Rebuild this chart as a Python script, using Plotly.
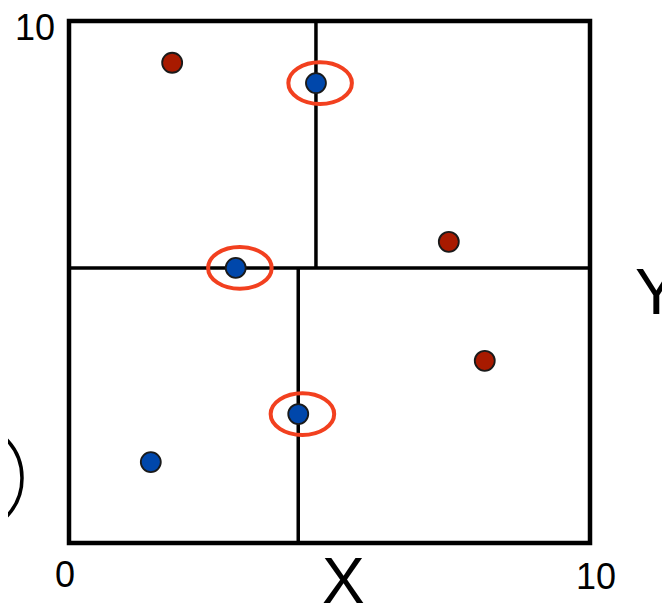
import plotly.graph_objects as go

# ---- data ----
red_x = [1.98, 7.29, 7.98]
red_y = [9.20, 5.77, 3.49]
blue_x = [4.74, 3.20, 4.40, 1.57]
blue_y = [8.81, 5.27, 2.47, 1.55]
highlighted = [0, 1, 2]          # indices of blue points circled in red
split_y = 5.27                   # first split (horizontal line)
split_x_top = 4.74               # split in upper half
split_x_bottom = 4.40            # split in lower half
axis_min, axis_max = 0, 10
tick_labels = ["0", "10", "10"]
x_label, y_label = "X", "Y"

FONT = "Liberation Sans, Arial, sans-serif"
RED_DOT = "#a81a00"
BLUE_DOT = "#0047ab"
HILITE = "#f2401f"

fig = go.Figure()
fig.add_trace(go.Scatter(x=red_x, y=red_y, mode="markers",
                         marker=dict(size=20, color=RED_DOT, line=dict(width=1.8, color="#1a1a1a")),
                         hoverinfo="skip"))
fig.add_trace(go.Scatter(x=blue_x, y=blue_y, mode="markers",
                         marker=dict(size=20, color=BLUE_DOT, line=dict(width=1.8, color="#1a1a1a")),
                         hoverinfo="skip"))

shapes = []
# outer box
shapes.append(dict(type="rect", xref="paper", yref="paper", x0=0, y0=0, x1=1, y1=1,
                   line=dict(color="black", width=4.5), layer="below"))
# split lines
shapes.append(dict(type="line", xref="x", yref="y", x0=axis_min, x1=axis_max, y0=split_y, y1=split_y,
                   line=dict(color="black", width=3.5), layer="below"))
shapes.append(dict(type="line", xref="x", yref="y", x0=split_x_top, x1=split_x_top, y0=split_y, y1=axis_max,
                   line=dict(color="black", width=3.5), layer="below"))
shapes.append(dict(type="line", xref="x", yref="y", x0=split_x_bottom, x1=split_x_bottom, y0=axis_min, y1=split_y,
                   line=dict(color="black", width=3.5), layer="below"))
# red highlight ellipses
ew, eh, edx = 0.61, 0.40, 0.08
for i in highlighted:
    cx, cy = blue_x[i] + edx, blue_y[i]
    shapes.append(dict(type="circle", xref="x", yref="y",
                       x0=cx - ew, x1=cx + ew, y0=cy - eh, y1=cy + eh,
                       line=dict(color=HILITE, width=4), layer="above"))
# partial black ellipse at left edge
shapes.append(dict(type="circle", xref="paper", yref="paper",
                   x0=-0.2726, x1=-0.0902, y0=0.0249, y1=0.2241,
                   line=dict(color="black", width=3.5)))

annotations = [
    dict(x=-0.0662, y=0.9866, text=tick_labels[1], font=dict(size=36, color="black", family=FONT)),
    dict(x=-0.0077, y=-0.0594, text=tick_labels[0], font=dict(size=36, color="black", family=FONT)),
    dict(x=1.0115, y=-0.0651, text=tick_labels[2], font=dict(size=36, color="black", family=FONT)),
    dict(x=0.526, y=-0.0728, text=x_label, font=dict(size=64, color="black", family=FONT)),
    dict(x=1.0825, y=0.4808, text=y_label, xanchor="left", font=dict(size=64, color="black", family=FONT)),
]
for a in annotations:
    a.update(xref="paper", yref="paper", showarrow=False)
    a.setdefault("xanchor", "center")
    a.setdefault("yanchor", "middle")

fig.update_layout(
    width=670, height=603,
    margin=dict(l=61, r=88, t=13, b=68),
    plot_bgcolor="white", paper_bgcolor="white",
    showlegend=False,
    shapes=shapes, annotations=annotations,
    xaxis=dict(range=[axis_min, axis_max], visible=False, fixedrange=True),
    yaxis=dict(range=[axis_min, axis_max], visible=False, fixedrange=True),
)
fig.write_html("out.html", config={"displayModeBar": False})
